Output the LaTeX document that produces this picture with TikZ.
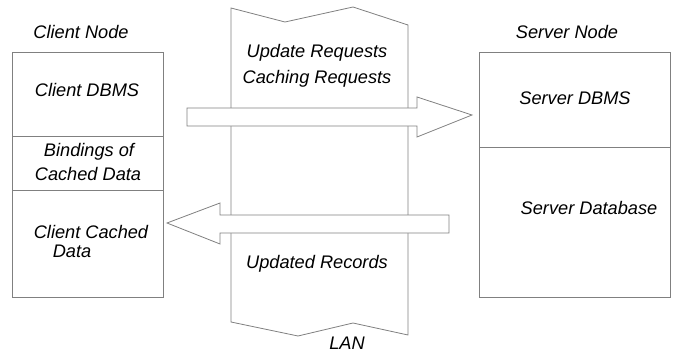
\documentclass[tikz,border=0pt]{standalone}
\usepackage{fontspec}
\setmainfont{Liberation Sans}
\begin{document}
\begin{tikzpicture}[x=1pt,y=-1pt,
  ln/.style={draw=black!50,line width=0.8pt},
  lbl/.style={font=\fontsize{18.2}{21}\selectfont\itshape,inner sep=0pt,anchor=base}]
\useasboundingbox (0,0) rectangle (675,353);
% LAN band
\draw[ln,fill=white] (231,8) coordinate (lt1) -- (285,22) -- (353,7) -- (408,25) coordinate (rt1)
  -- (408,335) -- (353,323) -- (298,336) -- (231,322) -- cycle;
% Client box
\draw[ln] (12,52) rectangle (163,297);
\draw[ln] (12,136) -- (163,136);
\draw[ln] (12,190) -- (163,190);
% Server box
\draw[ln] (479,52) rectangle (670,297);
\draw[ln] (479,147) -- (670,147);
% arrows
\draw[ln,fill=white] (187,108) -- (417,108) -- (417,97) -- (472,115) -- (417,137) -- (417,126) -- (187,126) -- cycle;
\draw[ln,fill=white] (449,215) -- (220,215) -- (220,203) -- (167,223) -- (220,244) -- (220,233) -- (449,233) -- cycle;
% labels
\node[lbl] (cn) at (81,39) {Client Node};
\node[lbl] (cd) at (87,96) {Client DBMS};
\node[lbl] (b1) at (89,156) {Bindings of};
\node[lbl] (b2) at (88,180) {Cached Data};
\node[lbl] (cc1) at (91,238) {Client Cached};
\node[lbl] (cc2) at (72,257) {Data};
\node[lbl] (sn) at (567,39) {Server Node};
\node[lbl] (sd) at (575,104) {Server DBMS};
\node[lbl] (sdb) at (589,214) {Server Database};
\node[lbl] (ur) at (317,58) {Update Requests};
\node[lbl] (cr) at (317,84) {Caching Requests};
\node[lbl] (urec) at (317,268) {Updated Records};
\node[lbl] (lan) at (347,349) {LAN};
\end{tikzpicture}
\end{document}
